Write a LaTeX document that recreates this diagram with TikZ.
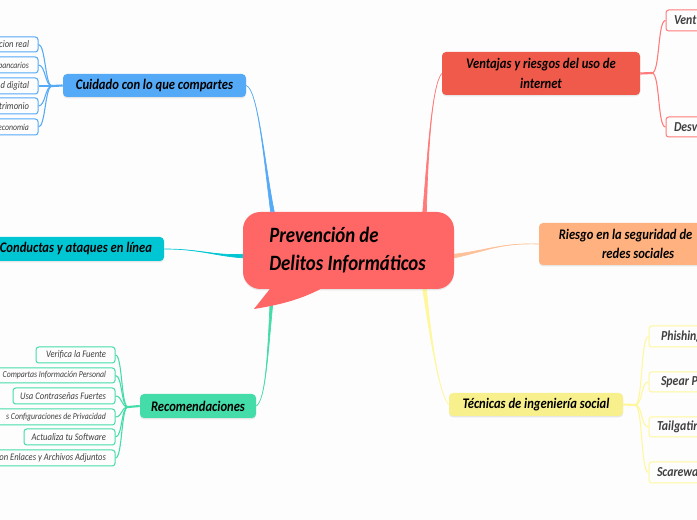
\documentclass[tikz,border=0pt]{standalone}
\usepackage{fontspec}
\setmainfont{Carlito}[FakeStretch=0.86]
\usetikzlibrary{shadows,calc}
\definecolor{paper}{HTML}{FDFDFD}
\definecolor{cCentral}{HTML}{FF6666}
\definecolor{cRedBox}{HTML}{EF5A4A}
\definecolor{cRedLine}{HTML}{FF7A78}
\definecolor{cBlue}{HTML}{55AAF8}
\definecolor{cTeal}{HTML}{00C6D4}
\definecolor{cGreen}{HTML}{44DCA8}
\definecolor{cYellowBox}{HTML}{F8F08C}
\definecolor{cYellowLine}{HTML}{FFF79A}
\definecolor{cOrange}{HTML}{FFB280}
\pgfdeclarelayer{paperlayer}
\pgfdeclarelayer{linklayer}
\pgfsetlayers{paperlayer,linklayer,main}
\newlength{\pxu}\setlength{\pxu}{0.75pt}
% box by its corners: style, name, x1, y1, x2, y2, options, text
\newcommand{\bx}[8]{%
  \pgfmathsetmacro{\bxw}{#5-(#3)}\pgfmathsetmacro{\bxh}{#6-(#4)}%
  \node[#1,minimum width=\bxw*\pxu,minimum height=\bxh*\pxu,#7]
    (#2) at ({(#3+#5)/2},{(#4+#6)/2}) {#8};}
% tapered link: colour, from, control 1, control 2, to, half width at the "to" end
\newcommand{\taper}[6]{%
  \draw[line width=0.5pt,draw=#1,fill=#1] (#2) .. controls (#3) and (#4) .. ($(#5)+(#6)$)
     -- ($(#5)-(#6)$) .. controls (#4) and (#3) .. (#2) -- cycle;}
\newcommand{\rt}[1]{\makebox[0pt][r]{#1}}
\tikzset{
  x=0.75pt,y=-0.75pt,
  headbox/.style={rounded corners=3pt,inner sep=0pt,text=black,
    font=\fontsize{11}{14.6}\selectfont\bfseries\itshape,
    drop shadow={opacity=.18,shadow xshift=0pt,shadow yshift=-1pt}},
  leafbox/.style={rounded corners=2pt,inner sep=0pt,line width=0.75pt,fill=paper,text=black!75,
    font=\fontsize{7.5}{9}\selectfont\itshape},
  tight leaf/.style={font=\fontsize{6.8}{9}\selectfont\itshape},
  bigleaf/.style={leafbox,font=\fontsize{10.3}{12}\selectfont\bfseries\itshape},
  stem/.style={line width=1.6pt},
  twig/.style={line width=0.8pt},
}
\begin{document}
\begin{tikzpicture}
\useasboundingbox (0,0) rectangle (697,520);
\begin{pgfonlayer}{paperlayer}
\fill[paper] (0,0) rectangle (697,520);
\end{pgfonlayer}
\clip (0,0) rectangle (697,520);

% central
\bx{headbox,fill=cCentral,rounded corners=13pt}{c}{243}{212}{454}{289}{align=flush left,text width=185*\pxu,font=\fontsize{16.4}{21}\selectfont\bfseries\itshape}{\hspace*{10pt}Prevención de\\\hspace*{10pt}Delitos Informáticos}
\fill[cCentral] (273,285) -- (254,309) .. controls (285,304) and (305,298) .. (328,285) -- cycle;

% branches
\bx{headbox,fill=cBlue}{cu}{63}{74}{246}{97}{}{Cuidado con lo que compartes}
\bx{headbox,fill=cTeal}{co}{-40}{237}{164}{261}{align=flush right,text width=180*\pxu}{Conductas y ataques en línea}
\bx{headbox,fill=cGreen}{re}{140}{394}{256}{418}{}{Recomendaciones}
\bx{headbox,fill=cRedBox}{ve}{442}{52}{640}{95}{align=flush center,text width=190*\pxu}{Ventajas y riesgos del uso de\hspace*{4pt}\\internet}
\bx{headbox,fill=cOrange}{ri}{539}{223}{760}{265}{align=flush left,text width=200*\pxu}{\hspace*{7pt}Riesgo en la seguridad de\\\hspace*{39.4pt}redes sociales}
\bx{headbox,fill=cYellowBox}{te}{449}{393}{623}{416}{}{Técnicas de ingeniería social}

% blue leaves
\tikzset{bl/.style={leafbox,draw=cBlue,align=flush right,text width=60*\pxu}}
\bx{bl}{b1}{-40}{37}{38}{52}{}{\rt{cion real}}
\bx{bl}{b2}{-40}{57}{38}{73}{tight leaf}{\rt{bancarios}}
\bx{bl}{b3}{-40}{78}{38}{94}{}{\rt{d digital}}
\bx{bl}{b4}{-40}{98}{38}{114}{}{\rt{trimonio}}
\bx{bl}{b5}{-40}{119}{38}{135}{tight leaf}{\rt{economia}}

% green leaves
\tikzset{gl/.style={leafbox,draw=cGreen,align=flush right}}
\bx{gl}{g1}{36}{347}{115}{363}{text width=61*\pxu}{\rt{Verifica la Fuente}}
\bx{gl}{g2}{-40}{368}{115}{383}{text width=137*\pxu,tight leaf}{\rt{Compartas Información Personal}}
\bx{gl}{g3}{13}{388}{115}{404}{text width=84*\pxu}{\rt{Usa Contraseñas Fuertes}}
\bx{gl}{g4}{-40}{409}{115}{425}{text width=137*\pxu,tight leaf}{\rt{s Configuraciones de Privacidad}}
\bx{gl}{g5}{24}{429}{115}{445}{text width=73*\pxu}{\rt{Actualiza tu Software}}
\bx{gl}{g6}{-40}{450}{115}{466}{text width=137*\pxu}{\rt{con Enlaces y Archivos Adjuntos}}

% red leaves
\tikzset{rl/.style={bigleaf,draw=cRedLine,align=flush left,text width=60*\pxu}}
\bx{rl}{r1}{666}{10}{734}{31}{}{\hspace*{3pt}Vent}
\bx{rl}{r2}{666}{117}{734}{137}{}{\hspace*{3pt}Desv}

% yellow leaves
\tikzset{yl/.style={bigleaf,draw=cYellowLine,align=flush left,text width=60*\pxu}}
\bx{yl}{y1}{649}{326}{721}{347}{}{\hspace*{4.5pt}Phishing}
\bx{yl}{y2}{649}{372}{721}{392}{}{\hspace*{4.5pt}Spear P}
\bx{yl}{y3}{649}{417}{721}{437}{}{\hspace*{1.5pt}Tailgatin}
\bx{yl}{y4}{649}{462}{721}{483}{}{\hspace*{1.5pt}Scarewa}

% junctions
\coordinate (jb) at (52,86);
\coordinate (jg) at (128,407);
\coordinate (jr) at (652,73);
\coordinate (jy) at (635,405);

\begin{pgfonlayer}{linklayer}
% central links
\taper{cBlue}{cu.east}{258,90}{264,160}{c.153}{1.8,0}
\taper{cTeal}{co.east}{200,249}{215,256}{c.183}{0,1.8}
\taper{cGreen}{re.east}{266,400}{268,350}{c.207}{1.8,0}
\taper{cRedLine}{ve.west}{432,85}{428,150}{c.27}{1.8,0}
\taper{cOrange!80}{ri.west}{500,243}{490,250}{c.357}{0,1.8}
\taper{cYellowLine}{te.west}{440,395}{432,350}{c.333}{1.8,0}
% stems
\draw[stem,cBlue] (cu.west) -- (jb);
\draw[stem,cGreen] (re.west) -- (jg);
\draw[stem,cRedLine] (ve.east) -- (jr);
\draw[stem,cYellowLine] (te.east) -- (jy);
% twigs
\foreach \n in {b1,b2,b3,b4,b5}
  \draw[twig,cBlue] (jb) .. controls +(-7,0) and +(7,0) .. (\n.east);
\foreach \n in {g1,g2,g3,g4,g5,g6}
  \draw[twig,cGreen] (jg) .. controls +(-7,0) and +(7,0) .. (\n.east);
\foreach \n in {r1,r2}
  \draw[twig,cRedLine] (jr) .. controls +(8,0) and +(-8,0) .. (\n.west);
\foreach \n in {y1,y2,y3,y4}
  \draw[twig,cYellowLine] (jy) .. controls +(8,0) and +(-8,0) .. (\n.west);
\end{pgfonlayer}
\end{tikzpicture}
\end{document}
